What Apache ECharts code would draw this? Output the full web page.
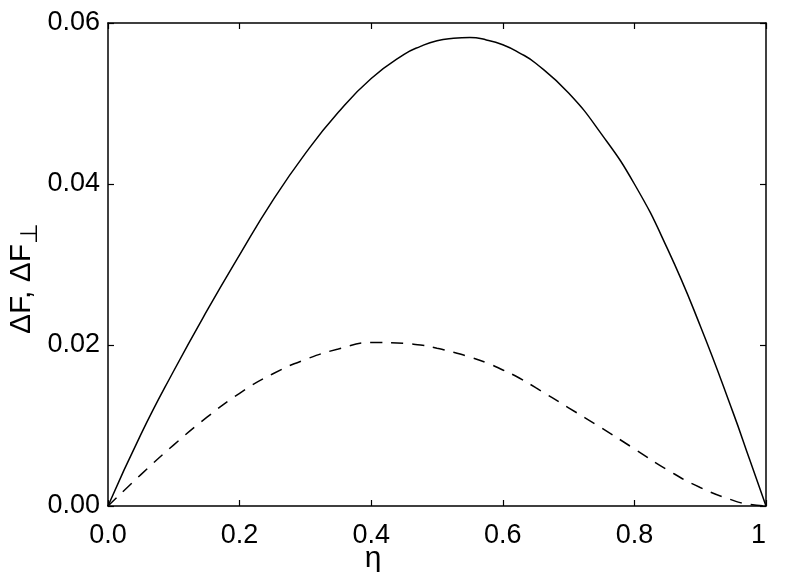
<!DOCTYPE html>
<html>
<head>
<meta charset="utf-8">
<script src="https://cdn.jsdelivr.net/npm/echarts@6/dist/echarts.min.js"></script>
<style>
  html, body { margin: 0; padding: 0; background: #fff; }
  #main { width: 789px; height: 572px; }
</style>
</head>
<body>
<div id="main"></div>
<script>
// eta values and the two curves
var eta = [0, 0.05, 0.1, 0.15, 0.2, 0.25, 0.3, 0.35, 0.4, 0.45, 0.475, 0.5,
           0.525, 0.55, 0.575, 0.6, 0.625, 0.65, 0.7, 0.75, 0.8, 0.85, 0.9, 0.95, 0.975, 1.0];
var dF = [0, 0.0089, 0.0168, 0.0242, 0.0312, 0.0379, 0.0438, 0.0489, 0.0531, 0.0561, 0.0571, 0.0578,
          0.0581, 0.0582, 0.0579, 0.0573, 0.0563, 0.0550, 0.0513, 0.0462, 0.0400, 0.0320, 0.0224, 0.0116, 0.0058, 0];
var dFperp = [0, 0.0039, 0.0076, 0.0110, 0.0140, 0.0164, 0.0182, 0.0195, 0.0203, 0.0202, 0.0200, 0.0196,
              0.0191, 0.0185, 0.0178, 0.0169, 0.0159, 0.0147, 0.0122, 0.0097, 0.0071, 0.0045, 0.0023, 0.0007, 0.0002, 0];
var xTicks = { min: 0, max: 1, step: 0.2 };
var yTicks = { min: 0, max: 0.06, step: 0.02 };

function pairs(xs, ys) {
    var out = [];
    for (var i = 0; i < xs.length; i++) {
        out.push([xs[i], ys[i]]);
    }
    return out;
}

var font = 'Liberation Sans';
var axisLine = { show: true, onZero: false, lineStyle: { color: '#000', width: 1.5 } };
var tick = { show: true, inside: true, length: 6, lineStyle: { color: '#000', width: 1.2 } };

var myChart = echarts.init(document.getElementById('main'));
var option = {
    backgroundColor: '#fff',
    animation: false,
    grid: { left: 108, right: 23, top: 23, bottom: 66, containLabel: false, outerBoundsMode: 'none' },
    xAxis: [{
        type: 'value',
        min: xTicks.min, max: xTicks.max, interval: xTicks.step,
        position: 'bottom',
        axisLine: axisLine, axisTick: tick, splitLine: { show: false },
        axisLabel: {
            color: '#000', fontFamily: font, fontSize: 27, margin: 16,
            alignMaxLabel: 'right',
            formatter: function(v) { return v === 1 ? '1' : v.toFixed(1); }
        },
        name: 'η',
        nameLocation: 'middle',
        nameGap: 38,
        nameMoveOverlap: false,
        nameTextStyle: { color: '#000', fontFamily: font, fontSize: 30, padding: [0, 128, 0, 0] }
    }, {
        type: 'value',
        min: xTicks.min, max: xTicks.max, interval: xTicks.step,
        position: 'top',
        axisLine: axisLine, axisTick: tick, splitLine: { show: false },
        axisLabel: { show: false }
    }],
    yAxis: [{
        type: 'value',
        min: yTicks.min, max: yTicks.max, interval: yTicks.step,
        position: 'left',
        axisLine: axisLine, axisTick: tick, splitLine: { show: false },
        axisLabel: {
            color: '#000', fontFamily: font, fontSize: 27, margin: 8,
            formatter: function(v) { return v.toFixed(2); }
        },
        name: '{a|ΔF, ΔF}{s|⊥}',
        nameLocation: 'middle',
        nameGap: 69,
        nameMoveOverlap: false,
        nameTextStyle: {
            padding: [0, 28, 0, 0],
            rich: {
                a: { color: '#000', fontFamily: font, fontSize: 30, lineHeight: 34 },
                s: { color: '#000', fontFamily: font, fontSize: 24, lineHeight: 34, padding: [16, 0, 0, 0] }
            }
        }
    }, {
        type: 'value',
        min: yTicks.min, max: yTicks.max, interval: yTicks.step,
        position: 'right',
        axisLine: axisLine, axisTick: tick, splitLine: { show: false },
        axisLabel: { show: false }
    }],
    series: [{
        name: 'ΔF',
        type: 'line',
        data: pairs(eta, dF),
        smooth: 0.5,
        showSymbol: false,
        lineStyle: { color: '#000', width: 1.5, type: 'solid' }
    }, {
        name: 'ΔF⊥',
        type: 'line',
        data: pairs(eta, dFperp),
        smooth: 0.5,
        showSymbol: false,
        lineStyle: { color: '#000', width: 1.5, type: [12, 9] }
    }]
};
myChart.setOption(option);
</script>
</body>
</html>
